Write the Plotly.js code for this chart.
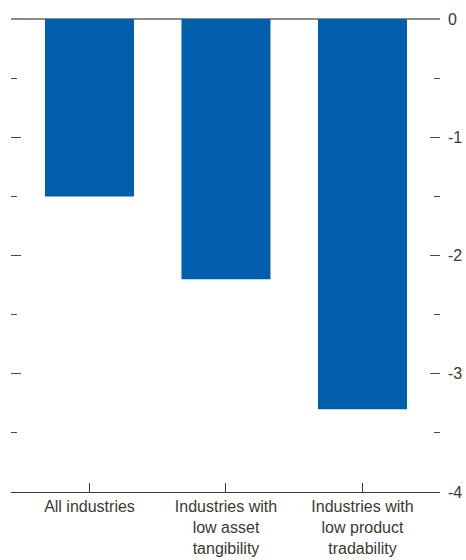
<!DOCTYPE html>
<html>
<head>
<meta charset="utf-8">
<script src="https://cdn.plot.ly/plotly-3.0.1.min.js"></script>
<style>html,body{margin:0;padding:0;background:#fff;}#chart{width:466px;height:560px;}</style>
</head>
<body>
<div id="chart"></div>
<script>
const categories = ["All industries", "Industries with<br>low asset<br>tangibility", "Industries with<br>low product<br>tradability"];
const values = [-1.5, -2.2, -3.3];
const tickVals = [0, -1, -2, -3, -4];
const tickText = ["0", "-1", "-2", "-3", "-4"];

const textColor = "#3b3a30";
const data = [{
  type: "bar",
  x: categories,
  y: values,
  width: 0.652,
  marker: {color: "#005eac", line: {width: 0}},
  hoverinfo: "skip"
}];

const layout = {
  width: 466, height: 560,
  margin: {l: 11, r: 26, t: 19, b: 68},
  paper_bgcolor: "#fff", plot_bgcolor: "#fff",
  showlegend: false,
  font: {family: "Liberation Sans, Arial, sans-serif", size: 16, color: textColor},
  xaxis: {
    type: "category",
    range: [-0.575, 2.568],
    showline: true, linecolor: textColor, linewidth: 1,
    ticks: "inside", ticklen: 9, tickcolor: textColor, tickwidth: 1,
    showgrid: false, zeroline: false,
    tickfont: {size: 16, color: textColor}
  },
  yaxis: {
    side: "right",
    range: [-4, 0],
    tickvals: tickVals, ticktext: tickText,
    ticks: "inside", ticklen: 10, tickcolor: "#4a4a42", tickwidth: 1,
    mirror: "ticks",
    minor: {dtick: 0.5, ticks: "inside", ticklen: 6, tickcolor: "#4a4a42", tickwidth: 1, showgrid: false},
    showgrid: false, showline: false,
    zeroline: true, zerolinecolor: "#8e8d84", zerolinewidth: 1.5,
    ticklabelstandoff: 7,
    tickfont: {size: 16, color: textColor}
  }
};

Plotly.newPlot("chart", data, layout, {displayModeBar: false, staticPlot: true});
</script>
</body>
</html>
